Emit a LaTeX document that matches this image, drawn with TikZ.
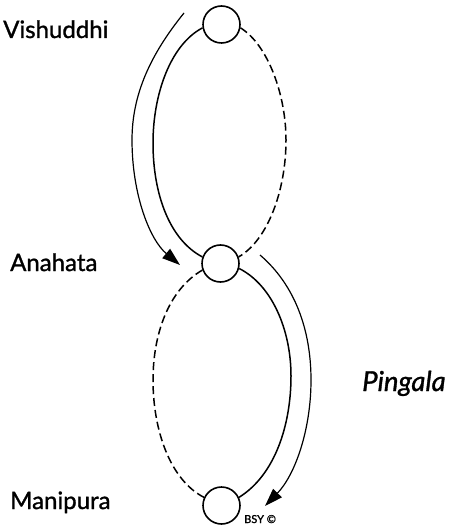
\documentclass[tikz,border=0pt]{standalone}
\usepackage{fontspec}
\setmainfont{Lato}[FakeBold=1.2]
\usetikzlibrary{arrows.meta}
\begin{document}
\begin{tikzpicture}[x=1pt,y=-1pt,
  chakra/.style={circle,draw,line width=1.6pt,minimum size=37pt,inner sep=0pt},
  loopline/.style={line width=1.5pt},
  loopdash/.style={line width=1.5pt,dash pattern=on 8pt off 4pt},
  flow/.style={line width=1.2pt,-{Triangle[length=18pt,width=12pt]}},
  label/.style={font=\fontsize{24}{28}\selectfont,anchor=base west,inner sep=0pt}]
\useasboundingbox (0,0) rectangle (456,526);
\node[chakra] (vis) at (221.5,24.5) {};
\node[chakra] (ana) at (220.5,263.5) {};
\node[chakra] (man) at (221.5,505.5) {};
% upper loop
\draw[loopline] (vis.190) .. controls (170,45) and (153,95) .. (153,143)
  .. controls (153,195) and (170,240) .. (ana.160);
\draw[loopdash] (vis.-10) .. controls (268,45) and (286,95) .. (286,140)
  .. controls (286,190) and (268,240) .. (ana.20);
% lower loop
\draw[loopdash] (ana.200) .. controls (168,290) and (153,335) .. (153,380)
  .. controls (153,430) and (170,480) .. (man.155);
\draw[loopline] (ana.-15) .. controls (272,285) and (291,330) .. (291,376)
  .. controls (291,425) and (275,475) .. (man.25);
% arrows
\coordinate (a1) at (184,13);
\coordinate (a2) at (180,265);
\coordinate (b1) at (260,255);
\coordinate (b2) at (265,506);
\draw[flow] (a1) .. controls (150,55) and (132,95) .. (132,140)
  .. controls (132,195) and (150,240) .. (a2);
\draw[flow] (b1) .. controls (295,285) and (311,330) .. (311,380)
  .. controls (311,430) and (295,475) .. (b2);
% labels
\node[label] (lv) at (3,38) {Vishuddhi};
\node[label] (la) at (10,271) {Anahata};
\node[label] (lm) at (10,509) {Manipura};
\node[label,font=\fontsize{27.5}{30}\selectfont\itshape] (lp) at (362,391) {Pingala};
\node[anchor=base west,inner sep=0pt,font=\fontsize{11}{12}\selectfont] (bsy) at (244,523) {BSY ©};
\end{tikzpicture}
\end{document}
